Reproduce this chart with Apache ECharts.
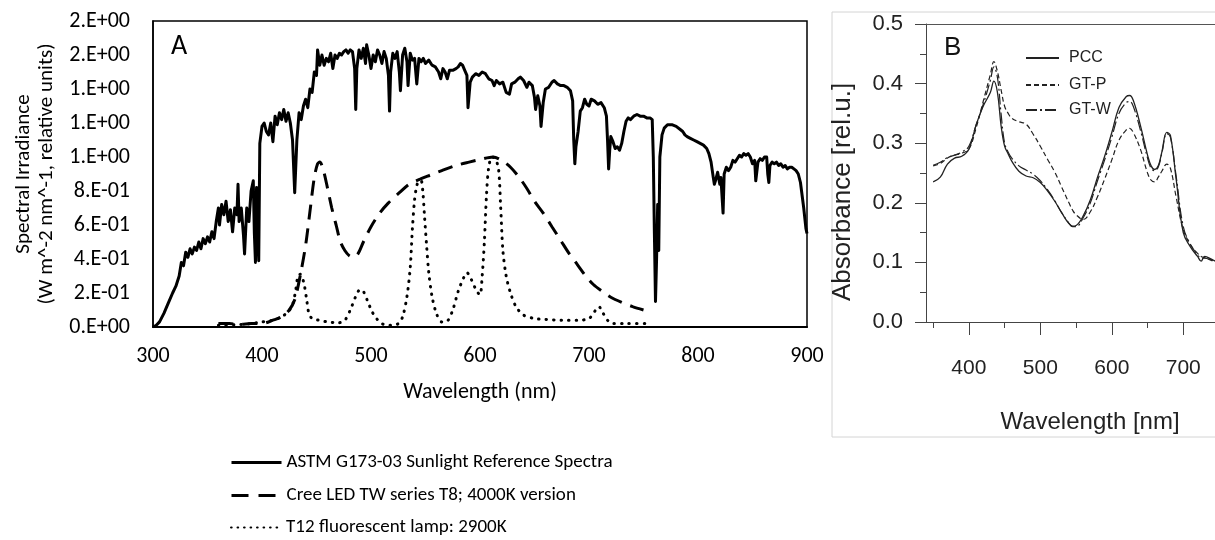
<!DOCTYPE html>
<html>
<head>
<meta charset="utf-8">
<script src="https://cdn.jsdelivr.net/npm/echarts@6/dist/echarts.min.js"></script>
<style>html,body{margin:0;padding:0;background:#fff}#c{width:1215px;height:540px}</style>
</head>
<body>
<div id="c"></div>
<script>
// ---------- Panel A data ----------
var sunWl = [300,303,306,310,314,318,321,324,326,328,330,332,334,336,338,340,342,344,346,348,350,352,354,356,358,360,361,363,365,367,369,371,373,375,377,378,379,381,383,384,386,388,390,392,393,394,395,396,397,398,400,402,404,406,408,410,412,414,416,418,420,422,424,426,428,430,432,434,436,438,440,442,444,446,448,450,451,453,455,457,459,461,463,465,467,469,471,473,475,477,479,481,483,485,486,487,489,491,493,495,496,498,500,502,504,506,508,510,512,514,516,517,518,520,522,524,526,527,529,531,533,534,536,538,540,542,544,546,548,550,553,556,559,562,564,566,568,570,572,575,578,580,582,584,586,588,589,590,591,593,596,599,602,605,608,611,613,615,618,621,624,627,629,632,635,637,640,643,645,648,650,651,653,655,656,658,660,663,666,668,671,674,677,680,683,685,686,687,688,690,692,694,696,698,700,702,705,708,711,714,716,717,718,719,720,722,724,726,728,730,732,734,736,738,741,744,747,750,753,756,758,759,760,761,762,763,764,765,767,769,772,776,780,784,786,788,790,793,796,799,802,805,808,810,812,814,815,816,818,820,821,823,824,826,828,830,832,834,836,838,840,842,844,846,848,850,852,853,854,855,857,859,861,863,864,865,866,868,870,872,874,876,878,880,882,884,886,888,890,892,894,895,897,899,900];
var sunVal = [0.00,0.01,0.03,0.08,0.14,0.20,0.24,0.30,0.38,0.36,0.44,0.41,0.46,0.43,0.47,0.45,0.50,0.46,0.52,0.49,0.53,0.50,0.56,0.52,0.62,0.70,0.60,0.72,0.66,0.74,0.62,0.69,0.56,0.70,0.66,0.84,0.62,0.70,0.54,0.43,0.70,0.62,0.80,0.86,0.55,0.38,0.82,0.60,0.39,1.08,1.18,1.20,1.15,1.13,1.20,1.09,1.24,1.19,1.26,1.22,1.28,1.21,1.26,1.20,1.10,0.79,1.10,1.26,1.22,1.30,1.34,1.29,1.40,1.38,1.50,1.48,1.63,1.54,1.60,1.54,1.58,1.56,1.61,1.52,1.60,1.58,1.61,1.60,1.62,1.63,1.61,1.63,1.62,1.52,1.28,1.52,1.63,1.58,1.64,1.55,1.66,1.60,1.52,1.60,1.56,1.63,1.60,1.55,1.62,1.58,1.48,1.27,1.50,1.61,1.58,1.62,1.50,1.39,1.60,1.64,1.56,1.42,1.61,1.57,1.58,1.43,1.58,1.56,1.58,1.55,1.57,1.54,1.53,1.50,1.46,1.52,1.50,1.46,1.51,1.51,1.52,1.53,1.55,1.54,1.51,1.48,1.29,1.30,1.44,1.47,1.49,1.48,1.50,1.49,1.46,1.45,1.42,1.45,1.43,1.44,1.38,1.37,1.43,1.44,1.46,1.47,1.45,1.41,1.44,1.42,1.35,1.28,1.36,1.30,1.18,1.32,1.40,1.41,1.44,1.45,1.43,1.42,1.42,1.41,1.39,1.33,1.10,0.96,1.06,1.15,1.27,1.29,1.34,1.31,1.30,1.34,1.33,1.31,1.32,1.29,1.24,1.10,0.93,1.04,1.12,1.09,1.05,1.06,1.04,1.08,1.15,1.21,1.23,1.22,1.24,1.25,1.24,1.24,1.23,1.23,1.22,1.00,0.55,0.15,0.40,0.72,0.45,1.00,1.13,1.17,1.19,1.19,1.18,1.16,1.15,1.13,1.12,1.11,1.10,1.09,1.08,1.07,1.05,1.02,0.97,0.88,0.84,0.86,0.91,0.84,0.88,0.67,0.90,0.94,0.92,0.94,0.98,0.97,0.99,1.01,1.00,1.02,1.01,1.02,1.00,0.96,0.98,0.86,0.85,0.97,0.99,0.98,1.00,1.00,0.90,0.85,0.95,0.97,0.96,0.97,0.95,0.96,0.94,0.95,0.93,0.94,0.94,0.93,0.92,0.90,0.85,0.80,0.70,0.58,0.55];

var ledWl  = [360,370,380,390,400,410,418,425,430,435,440,444,448,451,453,456,460,464,468,472,476,480,484,488,493,500,508,516,526,535,545,555,565,578,590,600,612,620,628,636,643,650,658,666,674,682,689,697,704,712,720,730,740,750];
var ledVal = [0.02,0.02,0.015,0.02,0.02,0.04,0.06,0.10,0.16,0.30,0.48,0.68,0.88,0.96,0.97,0.93,0.82,0.70,0.60,0.50,0.45,0.42,0.41,0.43,0.50,0.59,0.67,0.73,0.79,0.84,0.87,0.895,0.92,0.95,0.97,0.985,1.00,0.98,0.94,0.88,0.815,0.74,0.67,0.59,0.51,0.43,0.37,0.30,0.25,0.21,0.175,0.145,0.12,0.10];

var flWl  = [360,380,390,400,410,418,424,428,431,433,435,437,439,441,443,446,452,460,470,476,481,486,490,493,497,501,505,510,515,520,525,529,533,536,538,540,542,544,546,547.5,549,551,553,556,560,565,570,575,580,585,588,592,597,600,602,604,606,608,611,614,617,619,621,624,628,633,640,650,660,675,690,700,705,709,713,717,722,735,755];
var flVal = [0.01,0.015,0.02,0.03,0.04,0.06,0.09,0.13,0.22,0.30,0.31,0.29,0.24,0.16,0.08,0.05,0.04,0.03,0.025,0.04,0.10,0.18,0.22,0.21,0.15,0.09,0.05,0.02,0.01,0.01,0.02,0.06,0.18,0.35,0.58,0.75,0.83,0.86,0.86,0.80,0.66,0.48,0.32,0.18,0.08,0.03,0.035,0.10,0.21,0.29,0.32,0.28,0.21,0.19,0.30,0.50,0.78,0.94,1.00,0.99,0.93,0.70,0.45,0.30,0.20,0.12,0.07,0.05,0.045,0.04,0.04,0.05,0.09,0.12,0.08,0.04,0.02,0.02,0.02];

var seriesNamesA = ['ASTM G173-03 Sunlight Reference Spectra','Cree LED TW series T8; 4000K version','T12 fluorescent lamp: 2900K'];

// ---------- Panel B data ----------
var bWl   = [350,360,370,380,390,400,410,420,430,435,440,445,450,455,460,470,480,490,500,510,520,530,540,545,550,560,570,580,590,600,610,620,625,630,640,650,655,660,665,670,677,682,690,700,710,720,725,730,740,745];
var pccVal = [0.235,0.243,0.265,0.275,0.278,0.29,0.33,0.362,0.385,0.404,0.385,0.33,0.295,0.282,0.27,0.253,0.245,0.242,0.234,0.22,0.203,0.183,0.165,0.161,0.162,0.178,0.205,0.243,0.278,0.318,0.36,0.378,0.38,0.372,0.33,0.28,0.262,0.256,0.262,0.285,0.318,0.313,0.24,0.15,0.126,0.11,0.102,0.11,0.105,0.102];
var gtpVal = [0.262,0.266,0.275,0.28,0.283,0.29,0.325,0.37,0.415,0.437,0.42,0.39,0.362,0.35,0.342,0.336,0.332,0.315,0.295,0.273,0.252,0.226,0.2,0.188,0.18,0.172,0.185,0.21,0.24,0.272,0.305,0.322,0.325,0.318,0.29,0.25,0.238,0.235,0.243,0.253,0.265,0.258,0.21,0.155,0.13,0.115,0.11,0.108,0.104,0.101];
var gtwVal = [0.263,0.268,0.276,0.28,0.285,0.295,0.33,0.365,0.405,0.428,0.41,0.35,0.3,0.285,0.275,0.262,0.255,0.248,0.237,0.222,0.204,0.183,0.166,0.16,0.16,0.175,0.2,0.237,0.272,0.31,0.35,0.368,0.37,0.362,0.322,0.275,0.258,0.254,0.26,0.283,0.316,0.31,0.245,0.16,0.13,0.113,0.107,0.107,0.103,0.1];
var seriesNamesB = ['PCC','GT-P','GT-W'];

var bXMajor = [400,500,600,700];
var bXMinor = [350,450,550,650];
var bYMajor = [0,0.1,0.2,0.3,0.4,0.5];
var bYMinor = [0.05,0.15,0.25,0.35,0.45];

function pairs(xs, ys){ var o=[]; for(var i=0;i<xs.length;i++) o.push([xs[i], ys[i]]); return o; }
function excelExp(v){
  if (Math.abs(v) < 1e-9) return '0.E+00';
  var s = v.toExponential(0);
  var m = s.split('e'); var e = parseInt(m[1],10);
  var sign = e < 0 ? '-' : '+'; var ae = Math.abs(e);
  return m[0] + '.E' + sign + (ae < 10 ? '0' + ae : ae);
}

var FA = 'Carlito, Lato, sans-serif';
var FB = 'Liberation Sans, Arial, sans-serif';
var hideSym = {opacity:0, color:'rgba(0,0,0,0)', borderWidth:0};
var legendLineA = [{width:3}, {width:3, type:[17,10]}, {type:[0.5,6], width:2.2, cap:'round'}];

function legendA(i, top){
  return {orient:'vertical', left:225, top:top, itemWidth:50, itemHeight:14,
    itemStyle:hideSym, lineStyle:legendLineA[i],
    textStyle:{color:'#000', fontFamily:FA, fontSize:19}, data:[seriesNamesA[i]]};
}
function legendB(i, top){
  return {orient:'vertical', left:1020, top:top, itemWidth:33, itemHeight:10,
    itemStyle:hideSym, textStyle:{color:'#222', fontFamily:FB, fontSize:16, padding:[0,0,0,5]}, data:[seriesNamesB[i]]};
}

var chart = echarts.init(document.getElementById('c'), null, {renderer:'canvas'});
chart.setOption({
  animation: false,
  backgroundColor: '#fff',
  grid: [
    {left:153, top:21, width:654, height:306, show:true, borderColor:'#000', borderWidth:1.5, backgroundColor:'transparent'},
    {left:926, top:24, width:289, height:298}
  ],
  xAxis: [
    {gridIndex:0, type:'value', min:300, max:900, interval:100,
     axisLine:{show:true, lineStyle:{color:'#000', width:2}}, axisTick:{show:false}, splitLine:{show:false},
     axisLabel:{color:'#000', fontFamily:FA, fontSize:22, margin:18},
     name:'Wavelength (nm)', nameLocation:'middle', nameGap:54,
     nameTextStyle:{color:'#000', fontFamily:FA, fontSize:22}},
    {gridIndex:1, type:'value', min:340, max:744.4, offset:6,
     axisLine:{show:true, lineStyle:{color:'#444', width:1}},
     axisTick:{show:true, length:13, customValues:bXMajor, lineStyle:{color:'#444'}},
     axisLabel:{customValues:bXMajor, color:'#222', fontFamily:FB, fontSize:21, margin:30},
     splitLine:{show:false}},
    {gridIndex:1, type:'value', min:340, max:744.4, offset:6, position:'bottom',
     axisLine:{show:false},
     axisTick:{show:true, length:6, customValues:bXMinor, lineStyle:{color:'#444'}},
     axisLabel:{show:false}, splitLine:{show:false}},
    {gridIndex:1, type:'value', position:'top', min:340, max:744.4,
     axisLine:{show:true, lineStyle:{color:'#555', width:1}}, axisTick:{show:false}, axisLabel:{show:false}, splitLine:{show:false}}
  ],
  yAxis: [
    {gridIndex:0, type:'value', min:0, max:1.8, interval:0.2,
     axisLine:{show:true, lineStyle:{color:'#000', width:1.5}}, axisTick:{show:false}, splitLine:{show:false},
     axisLabel:{color:'#000', fontFamily:FA, fontSize:22, margin:23, formatter:excelExp},
     name:'Spectral Irradiance\n(W m^-2 nm^-1, relative units)', nameLocation:'middle', nameGap:86,
     nameTextStyle:{color:'#000', fontFamily:FA, fontSize:21, lineHeight:23}},
    {gridIndex:1, type:'value', min:0, max:0.5,
     axisLine:{show:true, lineStyle:{color:'#444', width:1}},
     axisTick:{show:true, length:11, customValues:bYMajor, lineStyle:{color:'#444'}},
     axisLabel:{customValues:bYMajor, color:'#222', fontFamily:FB, fontSize:22, margin:23,
                formatter:function(v){return v.toFixed(1);}},
     splitLine:{show:false}},
    {gridIndex:1, type:'value', min:0, max:0.5, position:'left',
     axisLine:{show:false},
     axisTick:{show:true, length:6, customValues:bYMinor, lineStyle:{color:'#444'}},
     axisLabel:{show:false}, splitLine:{show:false}}
  ],
  legend: [
    legendA(0, 448), legendA(1, 481), legendA(2, 513),
    legendB(0, 45), legendB(1, 72), legendB(2, 97)
  ],
  graphic: [
    {type:'rect', silent:true, shape:{x:832, y:12, width:420, height:425},
     style:{fill:'none', stroke:'#d4d4d4', lineWidth:1}},
    {type:'text', x:179, y:47, silent:true,
     style:{text:'A', fill:'#000', font:'28px '+FA, textAlign:'center', textVerticalAlign:'middle'}},
    {type:'text', x:944, y:48, silent:true,
     style:{text:'B', fill:'#111', font:'26px '+FB, textAlign:'left', textVerticalAlign:'middle'}},
    {type:'text', x:1090, y:422, silent:true,
     style:{text:'Wavelength [nm]', fill:'#222', font:'24px '+FB, textAlign:'center', textVerticalAlign:'middle'}},
    {type:'text', x:843, y:192, rotation:Math.PI/2, silent:true,
     style:{text:'Absorbance [rel.u.]', fill:'#222', font:'26px '+FB, textAlign:'center', textVerticalAlign:'middle'}}
  ],
  series: [
    {name:seriesNamesA[0], type:'line', xAxisIndex:0, yAxisIndex:0, symbol:'none',
     data:pairs(sunWl, sunVal), lineStyle:{color:'#000', width:3, join:'round'}, itemStyle:{color:'#000'}, z:3},
    {name:seriesNamesA[1], type:'line', xAxisIndex:0, yAxisIndex:0, symbol:'none', smooth:0.3,
     data:pairs(ledWl, ledVal), lineStyle:{color:'#000', width:3, type:[15,9]}, itemStyle:{color:'#000'}, z:2},
    {name:seriesNamesA[2], type:'line', xAxisIndex:0, yAxisIndex:0, symbol:'none', smooth:0.3,
     data:pairs(flWl, flVal), lineStyle:{color:'#000', width:3, type:[0.5,7], cap:'round'}, itemStyle:{color:'#000'}, z:2},
    {name:seriesNamesB[0], type:'line', xAxisIndex:1, yAxisIndex:1, symbol:'none', smooth:0.4,
     data:pairs(bWl, pccVal), lineStyle:{color:'#222', width:1.3}, itemStyle:{color:'#222'}},
    {name:seriesNamesB[1], type:'line', xAxisIndex:1, yAxisIndex:1, symbol:'none', smooth:0.4,
     data:pairs(bWl, gtpVal), lineStyle:{color:'#222', width:1.2, type:[5,3]}, itemStyle:{color:'#222'}},
    {name:seriesNamesB[2], type:'line', xAxisIndex:1, yAxisIndex:1, symbol:'none', smooth:0.4,
     data:pairs(bWl, gtwVal), lineStyle:{color:'#222', width:1.2, type:[11,3,2,3]}, itemStyle:{color:'#222'}}
  ]
});
</script>
</body>
</html>
